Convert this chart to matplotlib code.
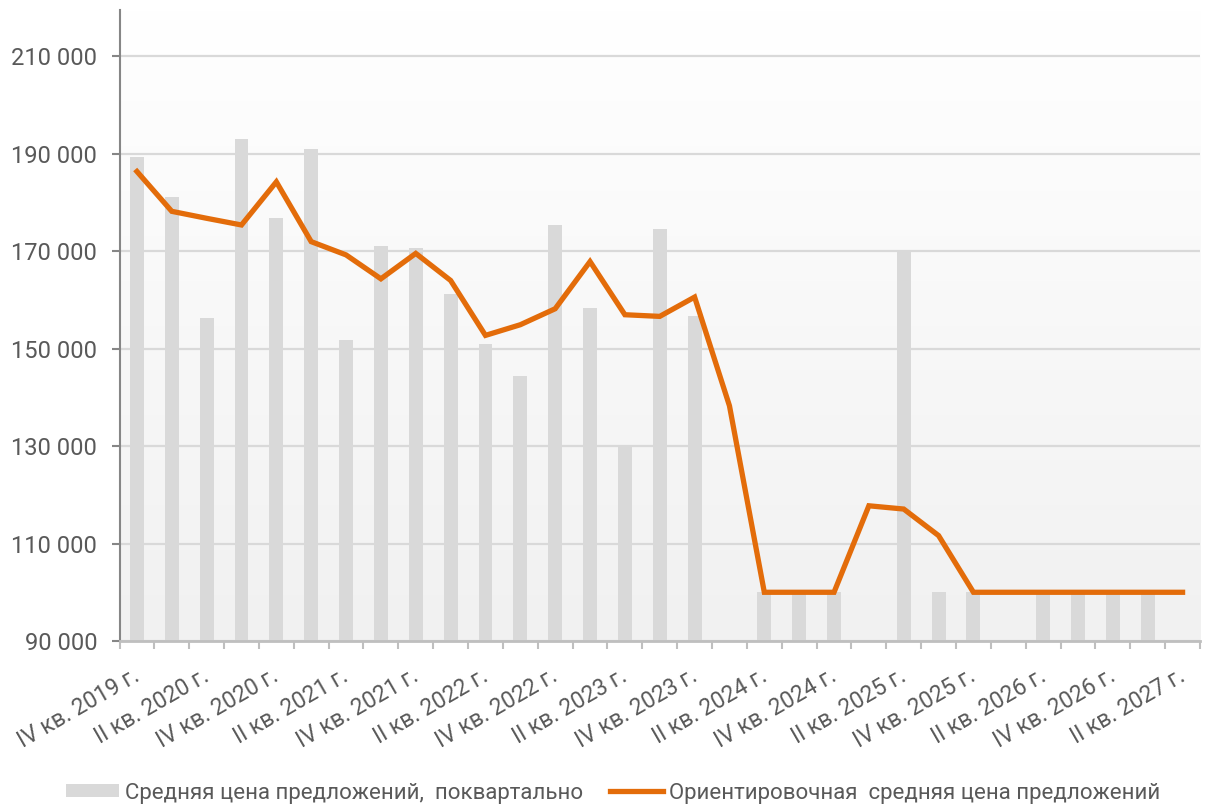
import matplotlib.pyplot as plt
import matplotlib.transforms as mtransforms
import numpy as np

plt.rcParams['font.family'] = ['Roboto', 'DejaVu Sans']

# quarters IV 2019 .. II 2027
quarters = ['IV кв. 2019 г.',
            'I кв. 2020 г.', 'II кв. 2020 г.', 'III кв. 2020 г.', 'IV кв. 2020 г.',
            'I кв. 2021 г.', 'II кв. 2021 г.', 'III кв. 2021 г.', 'IV кв. 2021 г.',
            'I кв. 2022 г.', 'II кв. 2022 г.', 'III кв. 2022 г.', 'IV кв. 2022 г.',
            'I кв. 2023 г.', 'II кв. 2023 г.', 'III кв. 2023 г.', 'IV кв. 2023 г.',
            'I кв. 2024 г.', 'II кв. 2024 г.', 'III кв. 2024 г.', 'IV кв. 2024 г.',
            'I кв. 2025 г.', 'II кв. 2025 г.', 'III кв. 2025 г.', 'IV кв. 2025 г.',
            'I кв. 2026 г.', 'II кв. 2026 г.', 'III кв. 2026 г.', 'IV кв. 2026 г.',
            'I кв. 2027 г.', 'II кв. 2027 г.']

# average offer price per quarter (bars), nan = no bar
bar_values = [189350, 181170, 156300, 193030, 176750, 190980, 151860, 171020,
              170610, 161120, 150880, 144410, 175450, 158330, 129730, 174630,
              156690, np.nan, 100000, 100000, 100000, np.nan, 170200, 100000,
              100000, np.nan, 100000, 100000, 100000, 100000, np.nan]

# approximate average offer price (line)
line_values = [186360, 178180, 176750, 175380, 184230, 171960, 169240, 164330,
               169550, 163990, 152720, 154910, 158190, 167870, 156960, 156620,
               160580, 138270, 100000, 100000, 100000, 117750, 117080, 111630,
               100000, 100000, 100000, 100000, 100000, 100000, 100000]

y_ticks = [90000, 110000, 130000, 150000, 170000, 190000, 210000]

bar_label = 'Средняя цена предложений,  поквартально'
line_label = 'Ориентировочная  средняя цена предложений'

txt_color = '#595959'

fig = plt.figure(figsize=(12.05, 8.07), dpi=100)
ax = fig.add_axes([119.5 / 1205, 1 - 641 / 807, (1200 - 119.5) / 1205, (641 - 10) / 807])

x = np.arange(len(quarters))
ax.set_xlim(-0.5, len(quarters) - 0.5)
ax.set_ylim(90000, 219500)

# gradient background of plot area
grad = np.linspace(0, 1, 256).reshape(-1, 1)
ax.imshow(grad, cmap=plt.matplotlib.colors.LinearSegmentedColormap.from_list(
    'bg', ['#f1f1f1', '#ffffff']), origin='lower', aspect='auto',
    extent=[-0.5, len(quarters) - 0.5, 90000, 219500], zorder=0)

ax.set_yticks(y_ticks)
ax.set_yticklabels([f'{v:,}'.replace(',', ' ') for v in y_ticks])
ax.yaxis.grid(True, color='#d9d9d9', linewidth=1.6, zorder=1)
ax.set_axisbelow(True)

bars = ax.bar(x, bar_values, width=0.4, color='#d9d9d9', zorder=2)
line, = ax.plot(x, line_values, color='#e36c0a', linewidth=3.8,
                solid_joinstyle='miter', zorder=3)

# x ticks: marks at category borders, labels every second quarter
ax.set_xticks(np.arange(-0.5, len(quarters), 1), minor=True)
ax.set_xticks(x[::2])
ax.set_xticklabels(quarters[::2], rotation=30, ha='right', va='top',
                   rotation_mode='anchor')
ax.tick_params(axis='x', which='major', length=0, pad=17, labelsize=16.5, labelcolor=txt_color)
ax.tick_params(axis='x', which='minor', length=6, width=1.5, color='#bfbfbf')
ax.tick_params(axis='y', length=6, width=1.5, color='#868686', labelsize=17,
               labelcolor=txt_color, pad=10)
offset = mtransforms.ScaledTranslation(-5 / 100, 0, fig.dpi_scale_trans)
for lab in ax.get_xticklabels():
    lab.set_transform(lab.get_transform() + offset)

for s in ['top', 'right']:
    ax.spines[s].set_visible(False)
ax.spines['left'].set_color('#868686')
ax.spines['left'].set_linewidth(1.5)
ax.spines['bottom'].set_color('#bfbfbf')
ax.spines['bottom'].set_linewidth(2)

fig.legend([bars, line], [bar_label, line_label], loc='center',
           bbox_to_anchor=(613 / 1205, 1 - 793 / 807), ncol=2,
           frameon=False, fontsize=16, labelcolor=txt_color, handlelength=2.4,
           handleheight=0.5, handletextpad=0.25, columnspacing=1.2)

fig.savefig('out.png', dpi=100)
